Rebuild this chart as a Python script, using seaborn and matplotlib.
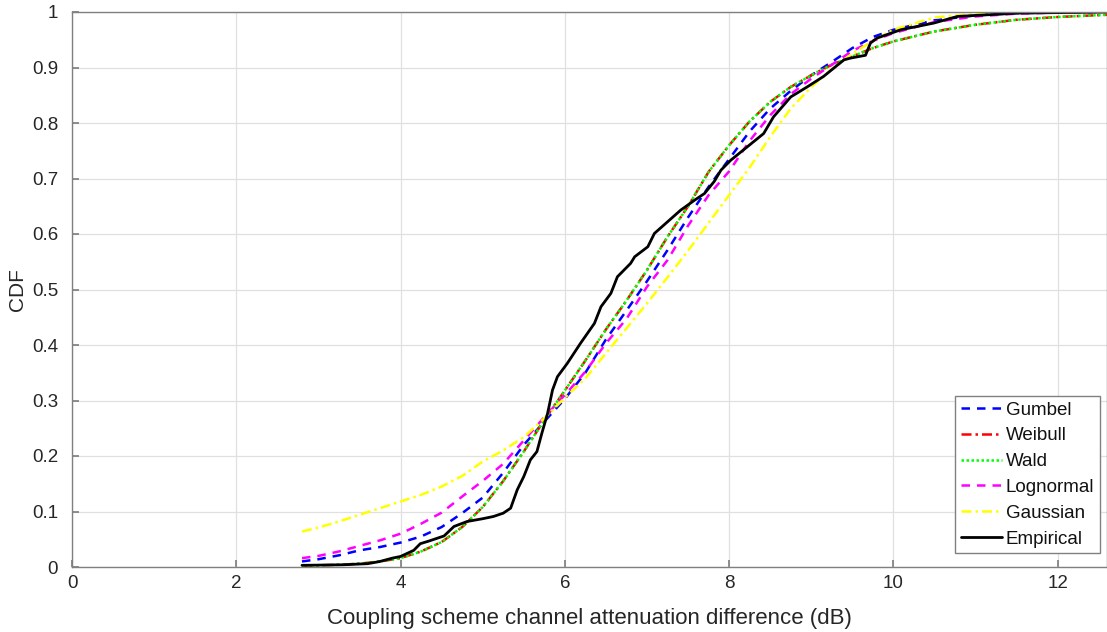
import matplotlib
matplotlib.use("Agg")
import matplotlib.pyplot as plt
import seaborn as sns
import pandas as pd

# ---- data ----
x_fit = [2.8, 3.0, 3.25, 3.5, 3.75, 4.0, 4.25, 4.5, 4.75, 5.0, 5.25, 5.5, 5.75,
         6.0, 6.25, 6.5, 6.75, 7.0, 7.25, 7.5, 7.75, 8.0, 8.25, 8.5, 8.75, 9.0,
         9.25, 9.5, 9.75, 10.0, 10.5, 11.0, 11.5, 12.0, 12.6]
gumbel = [0.010, 0.014, 0.021, 0.030, 0.036, 0.044, 0.055, 0.072, 0.097, 0.125,
          0.170, 0.220, 0.262, 0.303, 0.350, 0.410, 0.462, 0.515, 0.571, 0.630,
          0.685, 0.735, 0.785, 0.826, 0.858, 0.886, 0.910, 0.935, 0.955, 0.968,
          0.985, 0.994, 0.998, 0.999, 1.0]
weibull = [0.002, 0.003, 0.004, 0.006, 0.010, 0.016, 0.028, 0.045, 0.072, 0.108,
           0.155, 0.208, 0.265, 0.318, 0.372, 0.428, 0.480, 0.535, 0.595, 0.650,
           0.712, 0.760, 0.803, 0.838, 0.865, 0.886, 0.905, 0.920, 0.935, 0.947,
           0.965, 0.977, 0.986, 0.991, 0.995]
wald = [0.002, 0.003, 0.004, 0.006, 0.010, 0.016, 0.028, 0.045, 0.072, 0.108,
        0.155, 0.208, 0.265, 0.318, 0.372, 0.428, 0.480, 0.535, 0.595, 0.650,
        0.712, 0.760, 0.803, 0.838, 0.865, 0.886, 0.905, 0.920, 0.935, 0.947,
        0.965, 0.977, 0.986, 0.991, 0.995]
lognormal = [0.016, 0.020, 0.028, 0.038, 0.048, 0.060, 0.078, 0.098, 0.127, 0.155,
             0.186, 0.228, 0.270, 0.310, 0.352, 0.403, 0.447, 0.505, 0.553, 0.615,
             0.670, 0.713, 0.768, 0.814, 0.852, 0.880, 0.905, 0.930, 0.948, 0.962,
             0.982, 0.992, 0.997, 0.999, 1.0]
gaussian = [0.064, 0.071, 0.082, 0.094, 0.106, 0.118, 0.130, 0.145, 0.164, 0.190,
            0.210, 0.234, 0.268, 0.305, 0.340, 0.385, 0.430, 0.475, 0.522, 0.570,
            0.620, 0.670, 0.720, 0.775, 0.826, 0.865, 0.897, 0.925, 0.948, 0.968,
            0.990, 0.997, 0.999, 1.0, 1.0]

x_emp = [2.8, 3.3, 3.6, 3.75, 3.9, 4.0, 4.16, 4.24, 4.35, 4.53, 4.65, 4.81, 5.0,
         5.13, 5.25, 5.34, 5.42, 5.50, 5.58, 5.66, 5.72, 5.79, 5.85, 5.91, 6.03,
         6.19, 6.36, 6.44, 6.56, 6.64, 6.80, 6.85, 7.01, 7.09, 7.25, 7.41, 7.58,
         7.70, 7.82, 7.90, 8.02, 8.22, 8.42, 8.54, 8.75, 8.95, 9.15, 9.40, 9.48,
         9.66, 9.72, 9.80, 10.09, 10.49, 10.78, 11.51, 12.6]
y_emp = [0.003, 0.004, 0.006, 0.010, 0.016, 0.019, 0.030, 0.042, 0.047, 0.056,
         0.073, 0.082, 0.087, 0.091, 0.097, 0.106, 0.139, 0.163, 0.193, 0.208,
         0.241, 0.277, 0.319, 0.343, 0.367, 0.403, 0.439, 0.469, 0.493, 0.523,
         0.547, 0.559, 0.577, 0.601, 0.622, 0.643, 0.661, 0.673, 0.695, 0.715,
         0.733, 0.757, 0.781, 0.811, 0.847, 0.865, 0.884, 0.914, 0.917, 0.922,
         0.944, 0.953, 0.968, 0.980, 0.992, 0.998, 1.0]

x_ticks = [0, 2, 4, 6, 8, 10, 12]
y_ticks = [0, 0.1, 0.2, 0.3, 0.4, 0.5, 0.6, 0.7, 0.8, 0.9, 1]
y_tick_labels = ["0", "0.1", "0.2", "0.3", "0.4", "0.5", "0.6", "0.7", "0.8", "0.9", "1"]

sns.set_theme(style="white")
plt.rcParams['font.family'] = ['Liberation Sans', 'DejaVu Sans']

fig = plt.figure(figsize=(11.07, 6.32), dpi=100)
ax = fig.add_axes([72 / 1107, 65 / 632, 1 - 72 / 1107, (567 - 12) / 632])

dash = (0, (3.4, 2.8))
dashdot = (0, (4.0, 1.6, 1.0, 1.6))
dot = (0, (1.0, 1.0))
series = [
    ("Gumbel", x_fit, gumbel, (0, 0, 1), dash, 1.8),
    ("Weibull", x_fit, weibull, (1, 0, 0), dashdot, 1.8),
    ("Wald", x_fit, wald, (0, 1, 0), dot, 1.8),
    ("Lognormal", x_fit, lognormal, (1, 0, 1), dash, 1.8),
    ("Gaussian", x_fit, gaussian, (1, 1, 0), dashdot, 1.8),
    ("Empirical", x_emp, y_emp, (0, 0, 0), "-", 2.0),
]
for name, xs, ys, col, ls, lw in series:
    df = pd.DataFrame({"x": xs, "y": ys})
    sns.lineplot(data=df, x="x", y="y", ax=ax, color=col, linestyle=ls,
                 linewidth=lw, label=name, sort=False, estimator=None)

ax.set_xlim(0, 12.6)
ax.set_ylim(0, 1)
ax.set_xticks(x_ticks)
ax.set_yticks(y_ticks)
ax.set_yticklabels(y_tick_labels)
ax.grid(True, color="#e0e0e0", linewidth=0.9)
ax.set_axisbelow(True)
for s in ax.spines.values():
    s.set_color("#808080")
    s.set_linewidth(1.0)
ax.tick_params(direction="in", length=5, color="#808080", labelcolor="#262626",
               labelsize=13.5, bottom=True, left=True)
ax.tick_params(axis="x", pad=6)
ax.tick_params(axis="y", pad=10)
ax.set_xlabel("Coupling scheme channel attenuation difference (dB)",
              fontsize=16, color="#262626", labelpad=11)
ax.set_ylabel("CDF", fontsize=15, color="#262626")
ax.yaxis.set_label_coords(-0.043, 0.5)

leg = ax.legend(loc="upper right", bbox_to_anchor=(1100 / 1107, 1 - 396 / 632),
                bbox_transform=fig.transFigure, borderaxespad=0, fontsize=13.5,
                handlelength=2.2, handletextpad=0.2, labelspacing=0.46,
                borderpad=0.3, fancybox=False, framealpha=1, edgecolor="#808080")
leg.get_frame().set_linewidth(1.0)
for t in leg.get_texts():
    t.set_color("#111111")

fig.savefig("out.png", dpi=100)
